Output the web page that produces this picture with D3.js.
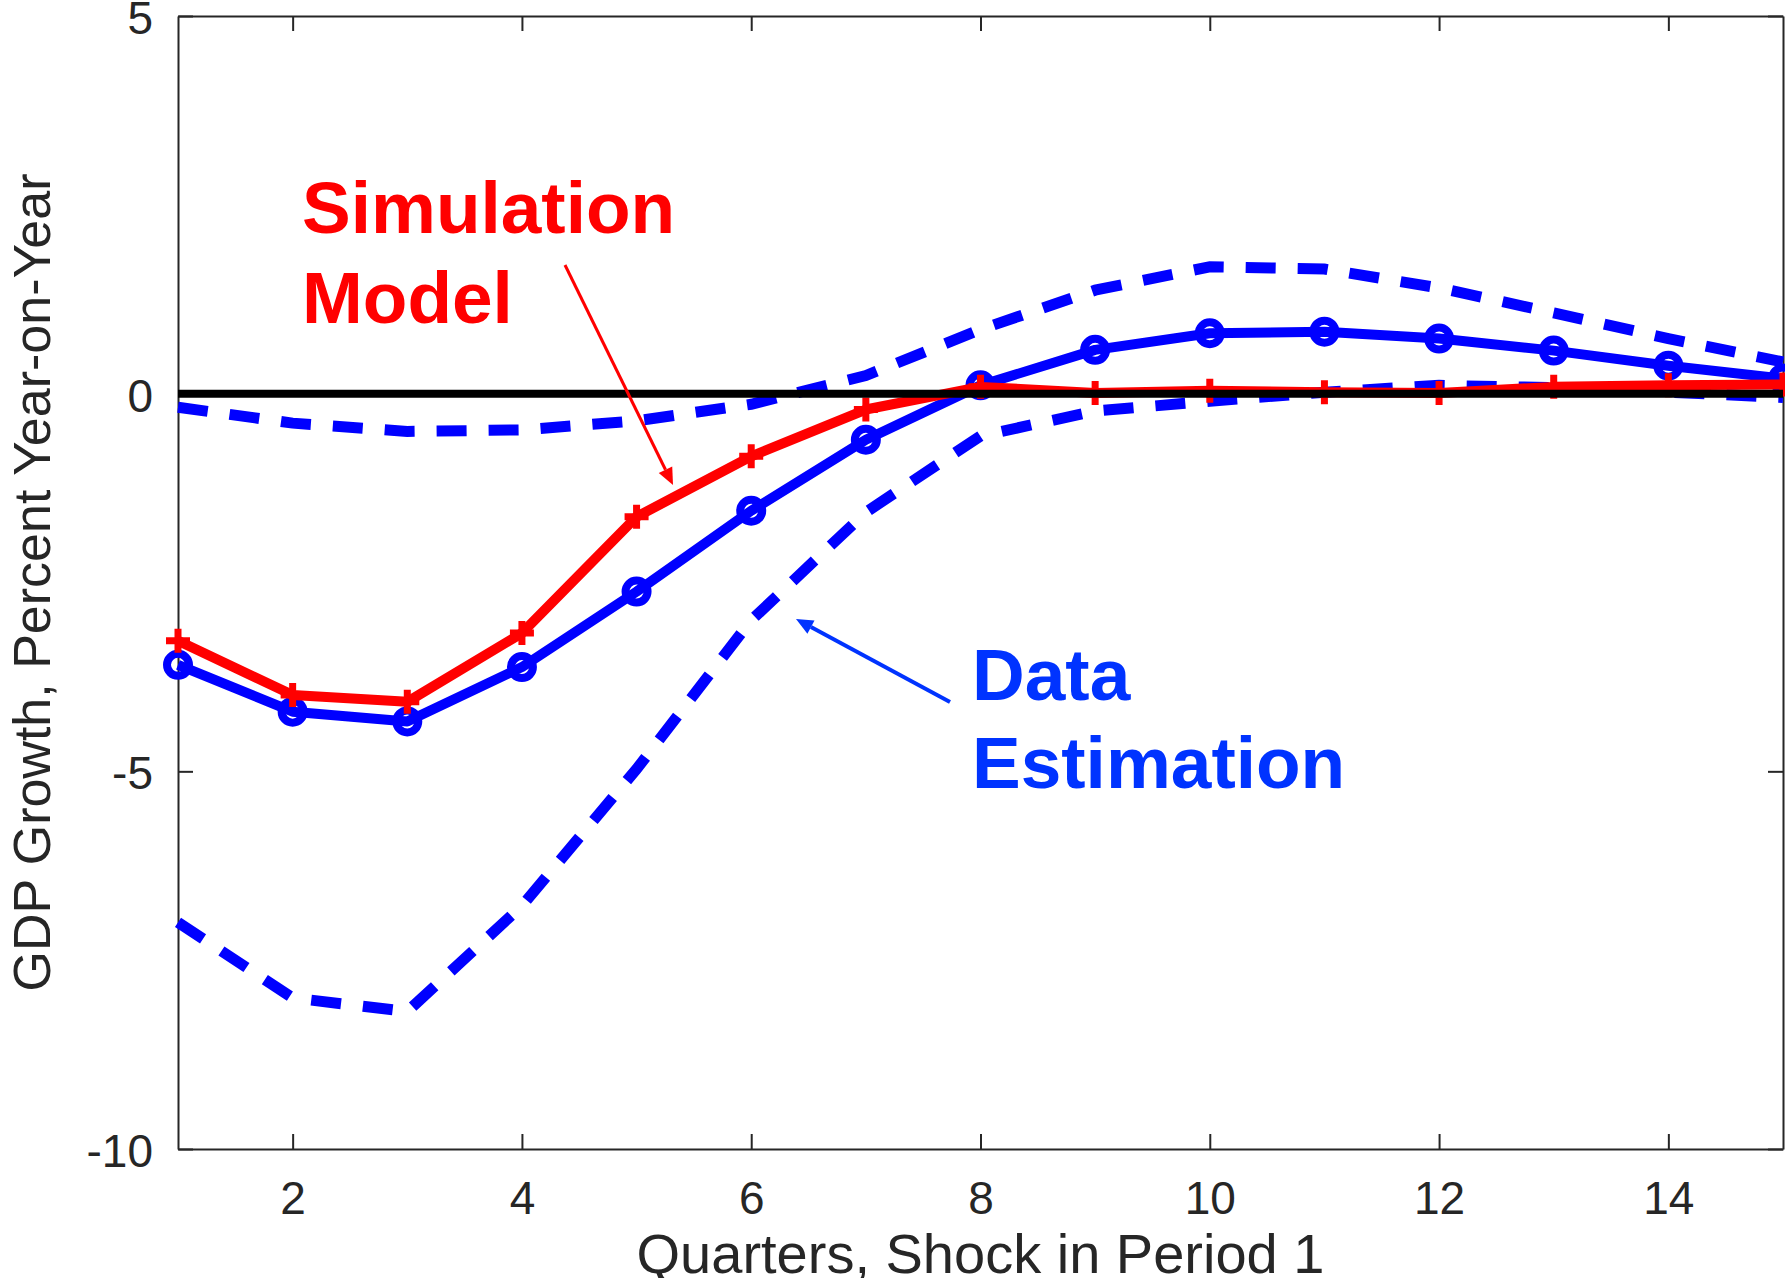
<!DOCTYPE html>
<html>
<head>
<meta charset="utf-8">
<script src="https://cdn.jsdelivr.net/npm/d3@7"></script>
<style>
  body { margin: 0; background: #fff; }
  text { font-family: "Liberation Sans", Arial, Helvetica, sans-serif; }
</style>
</head>
<body>
<div id="chart-area"></div>
<script>
let width = 1785,
    height = 1278;

// data
let quarters = [1, 2, 3, 4, 5, 6, 7, 8, 9, 10, 11, 12, 13, 14, 15];
let estimation = [-3.59, -4.21, -4.34, -3.62, -2.62, -1.55, -0.61, 0.11, 0.58, 0.80, 0.82, 0.73, 0.57, 0.37, 0.20];
let upperBand = [-0.18, -0.39, -0.50, -0.48, -0.36, -0.14, 0.24, 0.85, 1.37, 1.68, 1.65, 1.40, 1.07, 0.73, 0.42];
let lowerBand = [-7.0, -8.0, -8.18, -6.78, -4.97, -3.0, -1.57, -0.56, -0.23, -0.10, 0.02, 0.11, 0.08, 0.02, -0.05];
let simulation = [-3.27, -3.99, -4.08, -3.17, -1.63, -0.83, -0.21, 0.09, 0.01, 0.04, 0.02, 0.01, 0.09, 0.11, 0.12];
let xTicks = [2, 4, 6, 8, 10, 12, 14];
let yTicks = [-10, -5, 0, 5];

let margin = {left: 178, right: 2, top: 16, bottom: 129};

let svg = d3.select("#chart-area").append("svg")
  .attr("width", width)
  .attr("height", height);

let x = d3.scaleLinear().domain([1, 15]).range([margin.left, width - margin.right]);
let y = d3.scaleLinear().domain([-10, 5]).range([height - margin.bottom, margin.top]);

let axisColor = '#262626';
let tickLen = 15;

// axes box with inner ticks
let gx = svg.append('g')
  .attr('transform', 'translate(0,' + y(-10) + ')')
  .call(d3.axisBottom(x).tickValues(xTicks).tickSizeInner(-tickLen).tickSizeOuter(0).tickPadding(32));
let gxTop = svg.append('g')
  .attr('transform', 'translate(0,' + y(5) + ')')
  .call(d3.axisTop(x).tickValues(xTicks).tickSizeInner(-tickLen).tickSizeOuter(0).tickFormat(''));
let gy = svg.append('g')
  .attr('transform', 'translate(' + x(1) + ',0)')
  .call(d3.axisLeft(y).tickValues(yTicks).tickSizeInner(-tickLen).tickSizeOuter(0).tickPadding(25)
    .tickFormat(d => String(d)));
let gyRight = svg.append('g')
  .attr('transform', 'translate(' + x(15) + ',0)')
  .call(d3.axisRight(y).tickValues(yTicks).tickSizeInner(-tickLen).tickSizeOuter(0).tickFormat(''));

[gx, gxTop, gy, gyRight].forEach(g => {
  g.selectAll('path, line').attr('stroke', axisColor).attr('stroke-width', 2);
  g.selectAll('text').attr('fill', axisColor).style('font-size', '46px')
    .style('font-family', '"Liberation Sans", Arial, sans-serif');
});
gy.selectAll('text').attr('dy', '0.38em');

// axis titles
svg.append('text')
  .attr('x', (x(1) + x(15)) / 2)
  .attr('y', 1273)
  .attr('text-anchor', 'middle')
  .attr('fill', axisColor)
  .style('font-size', '56px')
  .text('Quarters, Shock in Period 1');

svg.append('text')
  .attr('transform', 'translate(50,' + (y(5) + y(-10)) / 2 + ') rotate(-90)')
  .attr('text-anchor', 'middle')
  .attr('fill', axisColor)
  .style('font-size', '52px')
  .text('GDP Growth, Percent Year-on-Year');

let line = d3.line()
  .x((d, i) => x(quarters[i]))
  .y(d => y(d));

// confidence bands
[upperBand, lowerBand].forEach(band => {
  svg.append('path')
    .datum(band)
    .attr('d', line)
    .attr('fill', 'none')
    .attr('stroke', '#0000ff')
    .attr('stroke-width', 11)
    .attr('stroke-dasharray', '30,22');
});

// data estimation
svg.append('path')
  .datum(estimation)
  .attr('d', line)
  .attr('fill', 'none')
  .attr('stroke', '#0000ff')
  .attr('stroke-width', 10)
  .attr('stroke-linejoin', 'round');

svg.selectAll('.circ')
  .data(estimation)
  .enter().append('circle')
  .attr('class', 'circ')
  .attr('cx', (d, i) => x(quarters[i]))
  .attr('cy', d => y(d))
  .attr('r', 11)
  .attr('fill', 'none')
  .attr('stroke', '#0000ff')
  .attr('stroke-width', 8);

// simulation
svg.append('path')
  .datum(simulation)
  .attr('d', line)
  .attr('fill', 'none')
  .attr('stroke', '#ff0000')
  .attr('stroke-width', 10)
  .attr('stroke-linejoin', 'round');

svg.selectAll('.plus')
  .data(simulation)
  .enter().append('path')
  .attr('class', 'plus')
  .attr('transform', (d, i) => 'translate(' + x(quarters[i]) + ',' + y(d) + ')')
  .attr('d', 'M-12,0H12M0,-12V12')
  .attr('stroke', '#ff0000')
  .attr('stroke-width', 7);

// zero line
svg.append('line')
  .attr('x1', x(1)).attr('x2', x(15))
  .attr('y1', y(0)).attr('y2', y(0))
  .attr('stroke', '#000')
  .attr('stroke-width', 8);

// annotations
function arrow(x1, y1, x2, y2, color, w, headLen, headW) {
  let ang = Math.atan2(y2 - y1, x2 - x1);
  let bx = x2 - headLen * Math.cos(ang), by = y2 - headLen * Math.sin(ang);
  svg.append('line')
    .attr('x1', x1).attr('y1', y1).attr('x2', bx).attr('y2', by)
    .attr('stroke', color).attr('stroke-width', w);
  let px = -Math.sin(ang) * headW / 2, py = Math.cos(ang) * headW / 2;
  svg.append('path')
    .attr('d', 'M' + x2 + ',' + y2 + 'L' + (bx + px) + ',' + (by + py) + 'L' + (bx - px) + ',' + (by - py) + 'Z')
    .attr('fill', color);
}

arrow(565, 265, 673, 485, '#ff0000', 3, 17, 15);
arrow(950, 702, 796, 619, '#0033ff', 4, 17, 15);

let simText = svg.append('text')
  .attr('fill', '#ff0000')
  .style('font-size', '73px')
  .style('font-weight', 'bold');
simText.append('tspan').attr('x', 302).attr('y', 233).text('Simulation');
simText.append('tspan').attr('x', 302).attr('y', 323).text('Model');

let dataText = svg.append('text')
  .attr('fill', '#0033ff')
  .style('font-size', '73px')
  .style('font-weight', 'bold');
dataText.append('tspan').attr('x', 972).attr('y', 700).text('Data');
dataText.append('tspan').attr('x', 972).attr('y', 788).text('Estimation');
</script>
</body>
</html>
